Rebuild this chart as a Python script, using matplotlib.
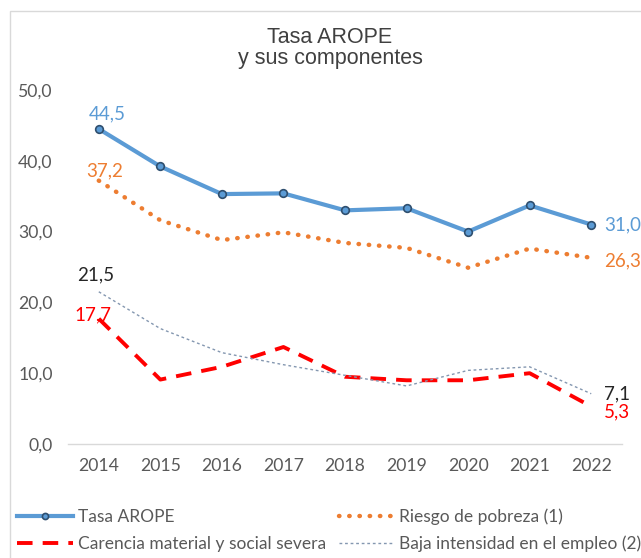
import matplotlib
matplotlib.use("Agg")
import matplotlib.pyplot as plt
from matplotlib.patches import Rectangle

years = ["2014", "2015", "2016", "2017", "2018", "2019", "2020", "2021", "2022"]
tasa_arope = [44.5, 39.2, 35.3, 35.4, 33.0, 33.3, 30.0, 33.7, 31.0]
riesgo_pobreza = [37.2, 31.6, 28.8, 29.9, 28.4, 27.7, 24.9, 27.6, 26.3]
carencia = [17.7, 9.1, 10.9, 13.7, 9.5, 9.0, 9.0, 10.0, 5.3]
baja_intensidad = [21.5, 16.3, 12.9, 11.2, 9.7, 8.2, 10.4, 10.9, 7.1]
yticks = [0, 10, 20, 30, 40, 50]

plt.rcParams['font.family'] = ['Lato', 'DejaVu Sans']

W, H = 641, 558
fig = plt.figure(figsize=(W/100, H/100), dpi=100)
ax = fig.add_axes([68/W, 1-444/H, (622-68)/W, (444-90)/H])

x = list(range(len(years)))
c_blue = '#5b9bd5'
c_orange = '#ed7d31'
c_red = '#ff0000'
c_gray = '#8497b0'

l1, = ax.plot(x, tasa_arope, color=c_blue, lw=3.0, marker='o', ms=5.5,
              mfc=c_blue, mec='#2f4f6f', mew=1.2, label='Tasa AROPE', zorder=4)
l2, = ax.plot(x, riesgo_pobreza, color=c_orange, lw=3.2, linestyle=(0, (0.1, 2.2)),
              dash_capstyle='round', label='Riesgo de pobreza (1)', zorder=3)
l3, = ax.plot(x, carencia, color=c_red, lw=2.8, linestyle=(0, (4, 2.6)),
              label='Carencia material y social severa', zorder=3)
l4, = ax.plot(x, baja_intensidad, color=c_gray, lw=1.0, linestyle=(0, (2, 2)),
              label='Baja intensidad en el empleo (2)', zorder=3)

ax.set_xlim(-0.5, len(years) - 0.5)
ax.set_ylim(0, 50)
ax.set_xticks(x)
ax.set_xticklabels(years)
ax.set_yticks(yticks)
ax.set_yticklabels([f"{v:.1f}".replace('.', ',') for v in yticks])
for s in ['top', 'right', 'left']:
    ax.spines[s].set_visible(False)
ax.spines['bottom'].set_color('#d9d9d9')
ax.spines['bottom'].set_linewidth(1.0)
ax.tick_params(axis='both', length=0, labelsize=12.7, labelcolor='#595959')
ax.tick_params(axis='x', pad=10)
ax.tick_params(axis='y', pad=11)
ax.set_facecolor('none')

def fmt(v):
    return f"{v:.1f}".replace('.', ',')

fs = 13.5
ax.annotate(fmt(tasa_arope[0]), (0, tasa_arope[0]), xytext=(6, 11), textcoords='offset points',
            ha='center', va='center', color=c_blue, fontsize=fs)
ax.annotate(fmt(riesgo_pobreza[0]), (0, riesgo_pobreza[0]), xytext=(4, 7), textcoords='offset points',
            ha='center', va='center', color=c_orange, fontsize=fs)
ax.annotate(fmt(baja_intensidad[0]), (0, baja_intensidad[0]), xytext=(-2, 12), textcoords='offset points',
            ha='center', va='center', color='#262626', fontsize=fs)
ax.annotate(fmt(carencia[0]), (0, carencia[0]), xytext=(-4, 3), textcoords='offset points',
            ha='center', va='center', color=c_red, fontsize=fs)
n = len(years) - 1
ax.annotate(fmt(tasa_arope[n]), (n, tasa_arope[n]), xytext=(9, 0), textcoords='offset points',
            ha='left', va='center', color=c_blue, fontsize=fs)
ax.annotate(fmt(riesgo_pobreza[n]), (n, riesgo_pobreza[n]), xytext=(9, -2), textcoords='offset points',
            ha='left', va='center', color=c_orange, fontsize=fs)
ax.annotate(fmt(baja_intensidad[n]), (n, baja_intensidad[n]), xytext=(9, 0), textcoords='offset points',
            ha='left', va='center', color='#262626', fontsize=fs)
ax.annotate(fmt(carencia[n]), (n, carencia[n]), xytext=(9, -4), textcoords='offset points',
            ha='left', va='center', color=c_red, fontsize=fs)

fig.text(330/W, 1-48/H, "Tasa AROPE\ny sus componentes", ha='center', va='center',
         fontsize=15.5, color='#404040', linespacing=1.05, family='Liberation Sans')

fig.legend(handles=[l1, l3, l2, l4], loc='upper left', bbox_to_anchor=(14/W, 1-505/H), ncol=2,
           frameon=False, fontsize=12.5, handlelength=3.2, handletextpad=0.3, columnspacing=0.7,
           labelspacing=0.62, labelcolor='#595959', borderaxespad=0, borderpad=0.2,
           numpoints=1, markerscale=0.8)

fig.patches.append(Rectangle((10/W, -0.1), 1.2, (1-11/H)+0.1, transform=fig.transFigure,
                             fill=False, edgecolor='#d9d9d9', lw=1.0))

fig.savefig('out.png', dpi=100)
